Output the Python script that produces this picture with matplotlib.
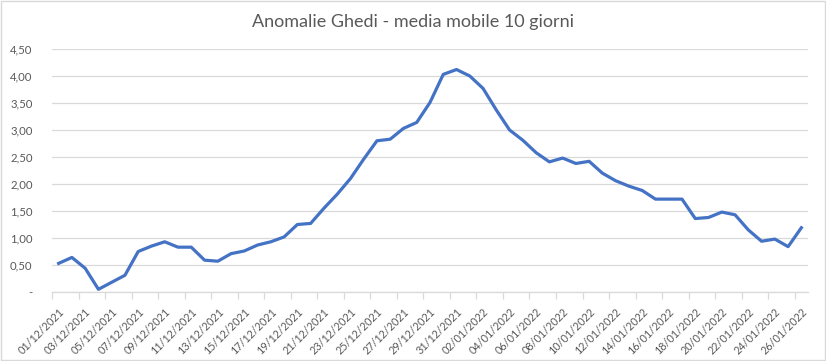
import matplotlib
matplotlib.use("Agg")
import matplotlib.pyplot as plt
import pandas as pd

# --------- data ---------
dates = pd.date_range("2021-12-01", "2022-01-26", freq="D")
media_mobile = [0.53, 0.64, 0.44, 0.05, 0.18, 0.31, 0.75, 0.85, 0.93, 0.83,
                0.83, 0.59, 0.57, 0.71, 0.76, 0.87, 0.93, 1.02, 1.25, 1.27,
                1.55, 1.81, 2.10, 2.46, 2.80, 2.83, 3.03, 3.14, 3.51, 4.03,
                4.12, 4.00, 3.77, 3.37, 3.00, 2.81, 2.58, 2.41, 2.48, 2.38,
                2.42, 2.20, 2.06, 1.96, 1.88, 1.72, 1.72, 1.72, 1.36, 1.38,
                1.48, 1.43, 1.15, 0.94, 0.98, 0.84, 1.19]
y_ticks = [0, 0.5, 1.0, 1.5, 2.0, 2.5, 3.0, 3.5, 4.0, 4.5]

title = "Anomalie Ghedi - media mobile 10 giorni"
grey_txt = "#595959"
grid_col = "#d9d9d9"

plt.rcParams['font.family'] = ['Lato', 'DejaVu Sans']

fig = plt.figure(figsize=(8.26, 3.61), dpi=100)
ax = fig.add_axes([52/826, 69/361, (808-52)/826, (292-49)/361])

x = list(range(len(dates)))
ax.plot(x, media_mobile, color="#4472C4", lw=2.3, solid_joinstyle="round")

# --------- axes ---------
ax.set_xlim(-0.5, len(dates) - 0.5)
ax.set_ylim(0, 4.5)
ax.set_yticks(y_ticks)
ax.set_yticklabels(["-" if v == 0 else f"{v:.2f}".replace(".", ",") for v in y_ticks])
ax.grid(axis="y", color=grid_col, lw=0.9)
ax.set_axisbelow(True)

lab_pos = x[::2]
ax.set_xticks(lab_pos)
ax.set_xticklabels([d.strftime("%d/%m/%Y") for d in dates[::2]],
                   rotation=45, ha="right", rotation_mode="anchor")
ax.set_xticks([p - 0.5 for p in range(0, len(dates), 2)], minor=True)
ax.tick_params(axis="x", which="major", length=0, pad=10, labelsize=7.8, labelcolor=grey_txt)
ax.tick_params(axis="x", which="minor", length=5, color=grid_col, width=0.9)
ax.tick_params(axis="y", length=0, pad=14, labelsize=8.2, labelcolor=grey_txt)

for s in ["top", "right", "left"]:
    ax.spines[s].set_visible(False)
ax.spines["bottom"].set_color(grid_col)
ax.spines["bottom"].set_linewidth(0.9)

fig.text(0.5, 1 - 22/361, title, ha="center", va="center", fontsize=13, color=grey_txt)

# chart border
fig.patches.append(plt.Rectangle((1/826, 1/361), 824/826, 359/361, transform=fig.transFigure,
                                 fill=False, edgecolor=grid_col, lw=1))

fig.savefig("out.png", dpi=100)
